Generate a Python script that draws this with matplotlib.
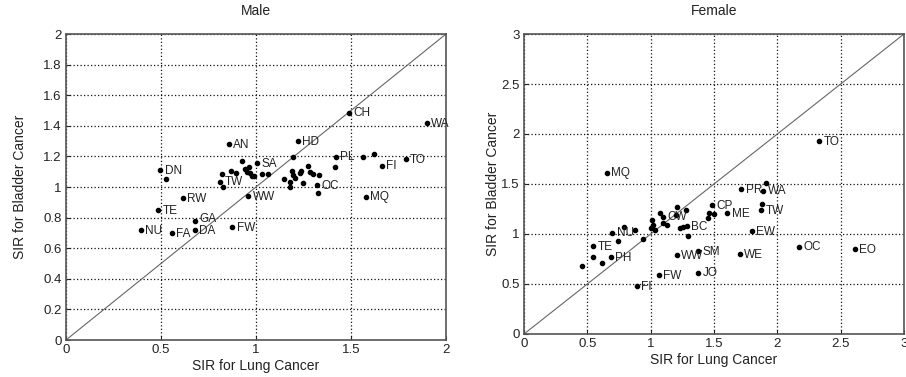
import matplotlib
matplotlib.use("Agg")
import matplotlib.pyplot as plt

plt.rcParams["font.family"] = ["Liberation Sans", "DejaVu Sans"]

# male SIR values (lung, bladder) and area codes ("" = unlabelled)
male_lung = [0.858, 0.496, 0.526, 0.81, 0.823, 0.828, 0.867, 0.895, 0.928, 0.94,
             0.955, 0.965, 0.97, 0.98, 0.99, 1.007, 1.03, 1.061, 0.96, 1.219,
             1.489, 1.898, 1.421, 1.418, 1.196, 1.19, 1.147, 1.179, 1.179, 1.205,
             1.197, 1.232, 1.237, 1.249, 1.275, 1.284, 1.298, 1.333, 1.319, 1.328,
             1.561, 1.621, 1.661, 1.788, 1.579, 0.614, 0.486, 0.677, 0.395, 0.556,
             0.679, 0.875]
male_bladder = [1.28, 1.11, 1.05, 1.035, 1.083, 0.998, 1.105, 1.089, 1.168, 1.12,
                1.10, 1.13, 1.09, 1.07, 1.07, 1.157, 1.083, 1.083, 0.94, 1.30,
                1.486, 1.416, 1.198, 1.129, 1.193, 1.104, 1.05, 1.035, 0.997, 1.057,
                1.078, 1.089, 1.104, 1.024, 1.14, 1.10, 1.083, 1.078, 1.013, 0.959,
                1.198, 1.213, 1.14, 1.181, 0.937, 0.926, 0.85, 0.78, 0.717, 0.699,
                0.717, 0.736]
male_codes = ["AN", "DN", "", "TW", "", "", "", "", "", "",
              "", "", "", "", "", "SA", "", "", "WW", "HD",
              "CH", "WA", "PL", "", "", "", "", "", "", "",
              "", "", "", "", "", "", "", "", "OC", "",
              "", "", "FI", "TO", "MQ", "RW", "TE", "GA", "NU", "FA",
              "DA", "FW"]

# female SIR values
female_lung = [0.653, 2.331, 1.715, 1.907, 1.889, 1.486, 1.605, 1.881, 1.871, 1.463,
               1.50, 1.45, 1.797, 2.17, 2.613, 1.705, 1.376, 1.376, 0.458, 0.547,
               0.542, 0.613, 0.684, 0.695, 0.739, 0.789, 0.876, 0.942, 0.892, 1.066,
               1.205, 1.008, 1.021, 1.002, 1.034, 1.073, 1.1, 1.095, 1.126, 1.205,
               1.2, 1.279, 1.231, 1.257, 1.284, 1.292]
female_bladder = [1.613, 1.93, 1.45, 1.51, 1.433, 1.29, 1.207, 1.30, 1.24, 1.207,
                  1.20, 1.157, 1.03, 0.873, 0.847, 0.797, 0.613, 0.83, 0.677, 0.877,
                  0.767, 0.707, 0.767, 1.013, 0.933, 1.073, 1.04, 0.947, 0.48, 0.59,
                  0.79, 1.14, 1.09, 1.057, 1.04, 1.213, 1.173, 1.113, 1.09, 1.267,
                  1.19, 1.24, 1.057, 1.073, 1.08, 0.98]
female_codes = ["MQ", "TO", "PR", "", "WA", "CP", "ME", "", "TW", "",
                "", "", "EW", "OC", "EO", "WE", "JO", "SM", "", "TE",
                "", "", "PH", "NU", "", "", "", "", "FI", "FW",
                "WW", "", "", "", "", "", "CW", "", "", "",
                "", "", "", "", "BC", ""]

male_ticks_y = [0, 0.2, 0.4, 0.6, 0.8, 1, 1.2, 1.4, 1.6, 1.8, 2]
male_ticks_x = [0, 0.5, 1, 1.5, 2]
female_ticks = [0, 0.5, 1, 1.5, 2, 2.5, 3]

fig = plt.figure(figsize=(9.06, 3.77), dpi=100)
ax1 = fig.add_axes([0.0728, 0.0981, 0.4195, 0.8117])
ax2 = fig.add_axes([0.5784, 0.1141, 0.4194, 0.7957])


def draw_panel(ax, xs, ys, codes, lim, xticks, yticks, title, ypad):
    ax.plot([0, lim], [0, lim], color="#666666", lw=0.8, zorder=2)
    ax.plot(xs, ys, "o", color="black", ms=3, zorder=3)
    for x, y, c in zip(xs, ys, codes):
        if c:
            dy = 1.5 if c == "GA" else -0.5
            ax.annotate(c, (x, y), xytext=(3.2, dy), textcoords="offset points",
                        va="center", ha="left", fontsize=8.5, color="#222222")
    ax.set_xlim(0, lim)
    ax.set_ylim(0, lim)
    ax.set_xticks(xticks)
    ax.set_yticks(yticks)
    ax.set_xticklabels(["%g" % t for t in xticks])
    ax.set_yticklabels(["%g" % t for t in yticks])
    ax.grid(True, color="#111111", linestyle=(0, (1, 1.8)), lw=0.9)
    ax.set_axisbelow(True)
    ax.tick_params(direction="in", length=3, labelsize=9.5, colors="#222222", pad=3)
    for s in ax.spines.values():
        s.set_color("#555555")
        s.set_linewidth(1.2)
    ax.set_xlabel("SIR for Lung Cancer", fontsize=10, color="#222222", labelpad=2)
    ax.set_ylabel("SIR for Bladder Cancer", fontsize=10, color="#222222", labelpad=ypad)
    ax.set_title(title, fontsize=10, color="#222222", pad=14)


draw_panel(ax1, male_lung, male_bladder, male_codes, 2, male_ticks_x, male_ticks_y, "Male", 12)
draw_panel(ax2, female_lung, female_bladder, female_codes, 3, female_ticks, female_ticks, "Female", 1)

fig.savefig("out.png", dpi=100)
